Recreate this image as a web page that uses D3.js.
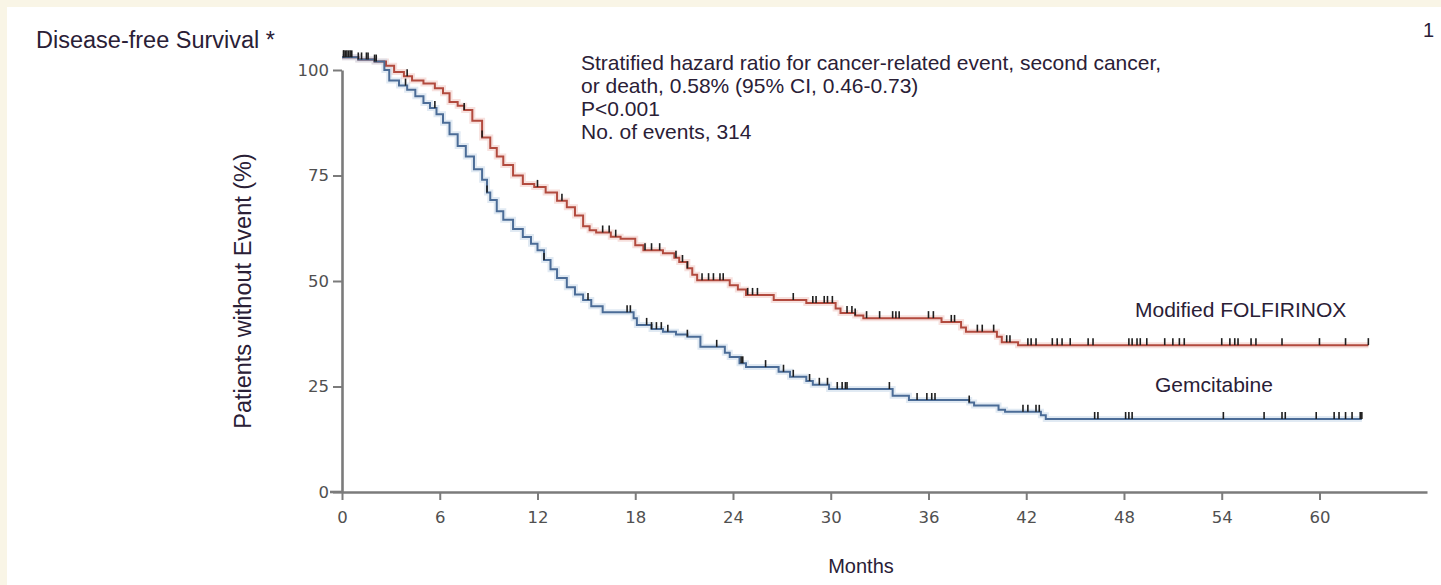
<!DOCTYPE html>
<html><head><meta charset="utf-8">
<script src="https://cdn.jsdelivr.net/npm/d3@7"></script>
<style>
html,body{margin:0;padding:0;background:#f9f5e6;}
svg{display:block;}
</style></head>
<body>
<svg id="chart" width="1441" height="585"></svg>
<script>
// ---- data ----
const xTicks = [0, 6, 12, 18, 24, 30, 36, 42, 48, 54, 60];
const yTicks = [0, 25, 50, 75, 100];

const seriesNames = ["Modified FOLFIRINOX", "Gemcitabine"];

const redTime = [0,1,2,2.7,3.2,3.8,4.3,5,5.7,6.2,6.6,7.1,7.5,8,8.6,9.1,9.5,9.9,10.5,11.1,11.8,12.5,13.2,13.8,14.3,14.8,15.2,15.6,16.5,17.1,18,18.5,19.7,20.4,20.7,21.2,21.5,21.8,23.8,24.3,24.8,26.5,28.5,30.3,30.6,31.5,32,36.8,38,38.3,40.2,40.5,41.5,63];
const redSurv = [103,102.5,102,101,99.5,98.5,97.5,96.8,95.7,94.5,92.4,91.5,90.5,88,84,81.5,79.5,77.5,75,73,72.3,71,69,67.5,65.5,63,62,61.5,60.5,60,58.5,57.3,56.6,55.5,54.5,53,51.5,50.2,49,48,46.7,45.5,44.8,43.5,42.4,41.8,41.2,40.3,39,38,36.8,35.5,34.8,34.8];

const blueTime = [0,1,2,2.6,2.9,3.5,4,4.5,5,5.4,5.8,6.2,6.6,7.1,7.6,8.1,8.6,8.9,9.1,9.5,9.9,10.5,11.1,11.6,12,12.4,12.8,13.2,13.8,14.3,14.8,15.3,16,17.9,18.1,19,19.7,20.5,21.2,22,23.5,23.8,24.4,24.8,26.8,27.5,28.5,28.9,29.9,33.8,34.8,38.5,38.8,40.3,40.7,42.9,43.2,62.6];
const blueSurv = [103,102.5,102,100,97.5,96.3,95.3,93.8,92.2,91,89.5,87.5,84.8,82,79.5,76.5,74,71,69.2,66.5,64.5,62.3,60.4,58.8,57.3,55,52.8,50.7,48.5,46.8,45.5,44,42.6,41.2,39.6,38.6,38,37.3,36.8,34.4,33,32,30.5,29.6,28.5,27.3,26.3,25.4,24.4,22.8,21.8,21.2,20.5,19.5,19,18.2,17.3,17.3];

const redCensor = [0.1,0.2,0.4,0.6,1.2,1.6,2.1,4.0,7.5,8.6,12.0,13.5,16.0,16.4,16.8,18.6,19.0,19.5,20.5,20.9,21.2,22.1,22.5,22.8,23.2,23.4,24.9,25.2,25.5,27.7,28.9,29.1,29.6,29.8,30.1,31.0,31.3,31.5,32.2,33.0,33.8,34.0,34.2,36.0,36.3,37.4,37.6,39.0,39.3,40.0,40.8,41.0,42.1,42.3,42.6,43.6,43.9,44.2,44.7,45.8,46.1,48.3,48.5,48.8,49.0,49.4,50.5,51.0,51.4,51.7,54.0,54.5,54.8,55.0,55.8,56.1,57.7,60.0,61.6,63.0];
const blueCensor = [0.1,0.3,0.5,1.0,1.5,2.0,3.9,5.7,8.9,12.4,15.1,17.5,17.7,18.7,19.0,19.3,19.6,20.0,21.2,23.0,24.5,24.6,26.0,27.1,27.7,28.7,29.3,29.8,30.4,30.7,30.9,31.0,33.6,35.3,35.9,36.2,36.4,38.5,41.8,42.1,42.6,42.8,46.2,46.4,48.1,48.3,48.5,54.1,56.6,57.7,57.9,59.8,60.9,61.2,61.6,62.0,62.5,62.6];

const annotation = [
  "Stratified hazard ratio for cancer-related event, second cancer,",
  "or death, 0.58% (95% CI, 0.46-0.73)",
  "P<0.001",
  "No. of events, 314"
];

// ---- drawing ----
const svg = d3.select("#chart");
const W = 1441, H = 585;
const textColor = "#2a2036";
const axisColor = "#7b7b7b";
const redColor = "#b24a3e";
const blueColor = "#4b6c97";

svg.append("rect").attr("width", W).attr("height", H).attr("fill", "#f9f5e6");
svg.append("rect").attr("x", 7).attr("y", 7).attr("width", W - 7).attr("height", H - 7).attr("fill", "#ffffff");

const x = d3.scaleLinear().domain([0, 66.6]).range([342, 1427]);
const y = d3.scaleLinear().domain([0, 100]).range([492, 70]);

// axes
const xAxis = d3.axisBottom(x).tickValues(xTicks).tickSize(8).tickSizeOuter(0).tickPadding(11);
const yAxis = d3.axisLeft(y).tickValues(yTicks).tickSize(9).tickSizeOuter(0).tickPadding(4);

const gx = svg.append("g").attr("transform", `translate(0,${y(0)})`).call(xAxis);
const gy = svg.append("g").attr("transform", `translate(${x(0)},0)`).call(yAxis);

[gx, gy].forEach(g => {
  g.select(".domain").attr("stroke", axisColor).attr("stroke-width", 2.6);
  g.selectAll(".tick line").attr("stroke", axisColor).attr("stroke-width", 2);
  g.selectAll(".tick text")
    .attr("fill", "#505050")
    .style("font-family", "'DejaVu Sans', sans-serif")
    .style("font-size", "16.5px");
});
// extend x-axis slightly left of the y axis as in the picture
svg.append("line").attr("x1", 330).attr("x2", x(0)).attr("y1", y(0)).attr("y2", y(0))
  .attr("stroke", axisColor).attr("stroke-width", 2.6);

// survival curves
function makeData(ts, ss) { return ts.map((t, i) => ({ t, s: ss[i] })); }
function survAt(ts, ss, t) {
  const i = d3.bisectRight(ts, t) - 1;
  return ss[Math.max(0, i)];
}
const line = d3.line().x(d => x(d.t)).y(d => y(d.s)).curve(d3.curveStepAfter);

const series = [
  { name: seriesNames[0], data: makeData(redTime, redSurv), color: redColor, halo: "#f0c8c2", censor: redCensor, ts: redTime, ss: redSurv },
  { name: seriesNames[1], data: makeData(blueTime, blueSurv), color: blueColor, halo: "#c9d8ea", censor: blueCensor, ts: blueTime, ss: blueSurv }
];

series.forEach(s => {
  svg.append("path").datum(s.data).attr("d", line)
    .attr("fill", "none").attr("stroke", s.halo).attr("stroke-width", 6).attr("stroke-opacity", 0.55);
});
series.forEach(s => {
  svg.append("path").datum(s.data).attr("d", line)
    .attr("fill", "none").attr("stroke", s.color).attr("stroke-width", 2);
});
series.forEach(s => {
  svg.append("g").selectAll("line").data(s.censor).join("line")
    .attr("x1", d => x(d)).attr("x2", d => x(d))
    .attr("y1", d => y(survAt(s.ts, s.ss, d)))
    .attr("y2", d => y(survAt(s.ts, s.ss, d)) - 7)
    .attr("stroke", "#1e1e1e").attr("stroke-width", 1.6);
});

// texts
const font = "Arial, 'Liberation Sans', sans-serif";
svg.append("text").attr("x", 36).attr("y", 48).text("Disease-free Survival *")
  .attr("fill", textColor).style("font-family", font).style("font-size", "23.5px");
svg.append("text").attr("x", 1423).attr("y", 37).text("1")
  .attr("fill", textColor).style("font-family", font).style("font-size", "20px");

svg.append("g").selectAll("text").data(annotation).join("text")
  .attr("x", 581).attr("y", (d, i) => 70 + i * 23).text(d => d)
  .attr("fill", textColor).style("font-family", font).style("font-size", "21px");

svg.append("text").attr("x", 1135).attr("y", 317).text(seriesNames[0])
  .attr("fill", textColor).style("font-family", font).style("font-size", "21px");
svg.append("text").attr("x", 1155).attr("y", 392).text(seriesNames[1])
  .attr("fill", textColor).style("font-family", font).style("font-size", "21px");

svg.append("text").attr("x", 861).attr("y", 573).attr("text-anchor", "middle").text("Months")
  .attr("fill", textColor).style("font-family", font).style("font-size", "20px");

svg.append("text").attr("transform", "translate(251,291) rotate(-90)").attr("text-anchor", "middle")
  .text("Patients without Event (%)")
  .attr("fill", textColor).style("font-family", font).style("font-size", "23.5px");
</script>
</body></html>
